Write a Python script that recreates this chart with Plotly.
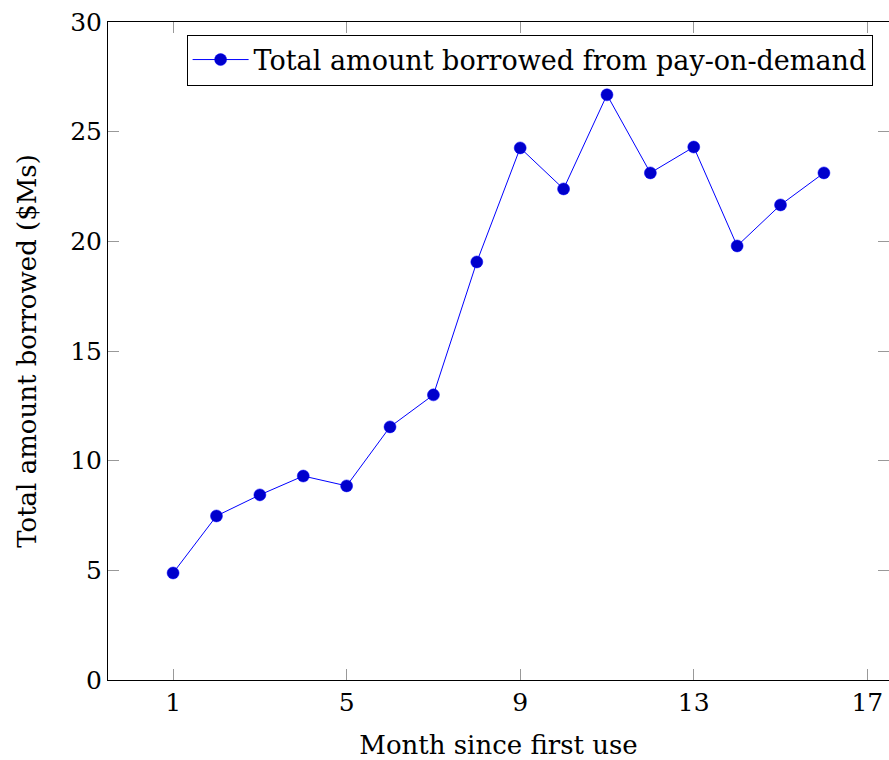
import plotly.graph_objects as go

months = list(range(1, 17))
borrowed = [4.88, 7.48, 8.44, 9.30, 8.85, 11.54, 13.0, 19.06, 24.26, 22.39, 26.68, 23.12, 24.30, 19.79, 21.66, 23.12]
x_ticks = [1, 5, 9, 13, 17]
y_ticks = [0, 5, 10, 15, 20, 25, 30]
series_name = "Total amount borrowed from pay-on-demand"

FONT = "DejaVu Serif"

fig = go.Figure()
fig.add_trace(go.Scatter(
    x=months, y=borrowed, mode="lines+markers", name=series_name,
    line=dict(color="#0000ff", width=1),
    marker=dict(size=12, color="#0000cc", line=dict(color="#0000ff", width=0.5)),
))

fig.update_layout(
    width=889, height=760,
    margin=dict(l=108, r=0, t=22, b=80),
    paper_bgcolor="white", plot_bgcolor="white",
    font=dict(family=FONT, size=25, color="black"),
    showlegend=True,
    legend=dict(
        x=0.979, xanchor="right", y=0.981, yanchor="top",
        bordercolor="black", borderwidth=1, bgcolor="white",
        font=dict(family=FONT, size=27),
        itemwidth=56,
    ),
    xaxis=dict(
        range=[-0.5, 17.5], tickvals=x_ticks, ticktext=[str(v) for v in x_ticks],
        showgrid=False, zeroline=False,
        showline=True, linecolor="black", linewidth=1, mirror="all",
        ticks="inside", ticklen=11, tickcolor="#999999", tickwidth=1,
        tickfont=dict(family=FONT, size=25),
        title=dict(text="Month since first use", font=dict(family=FONT, size=26), standoff=19),
    ),
    yaxis=dict(
        range=[0, 30], tickvals=y_ticks, ticktext=[str(v) for v in y_ticks],
        showgrid=False, zeroline=False,
        showline=True, linecolor="black", linewidth=1, mirror="all",
        ticks="inside", ticklen=11, tickcolor="#999999", tickwidth=1,
        tickfont=dict(family=FONT, size=25),
        title=dict(text="Total amount borrowed ($Ms)", font=dict(family=FONT, size=26), standoff=26),
    ),
)

fig.write_html("out.html")
